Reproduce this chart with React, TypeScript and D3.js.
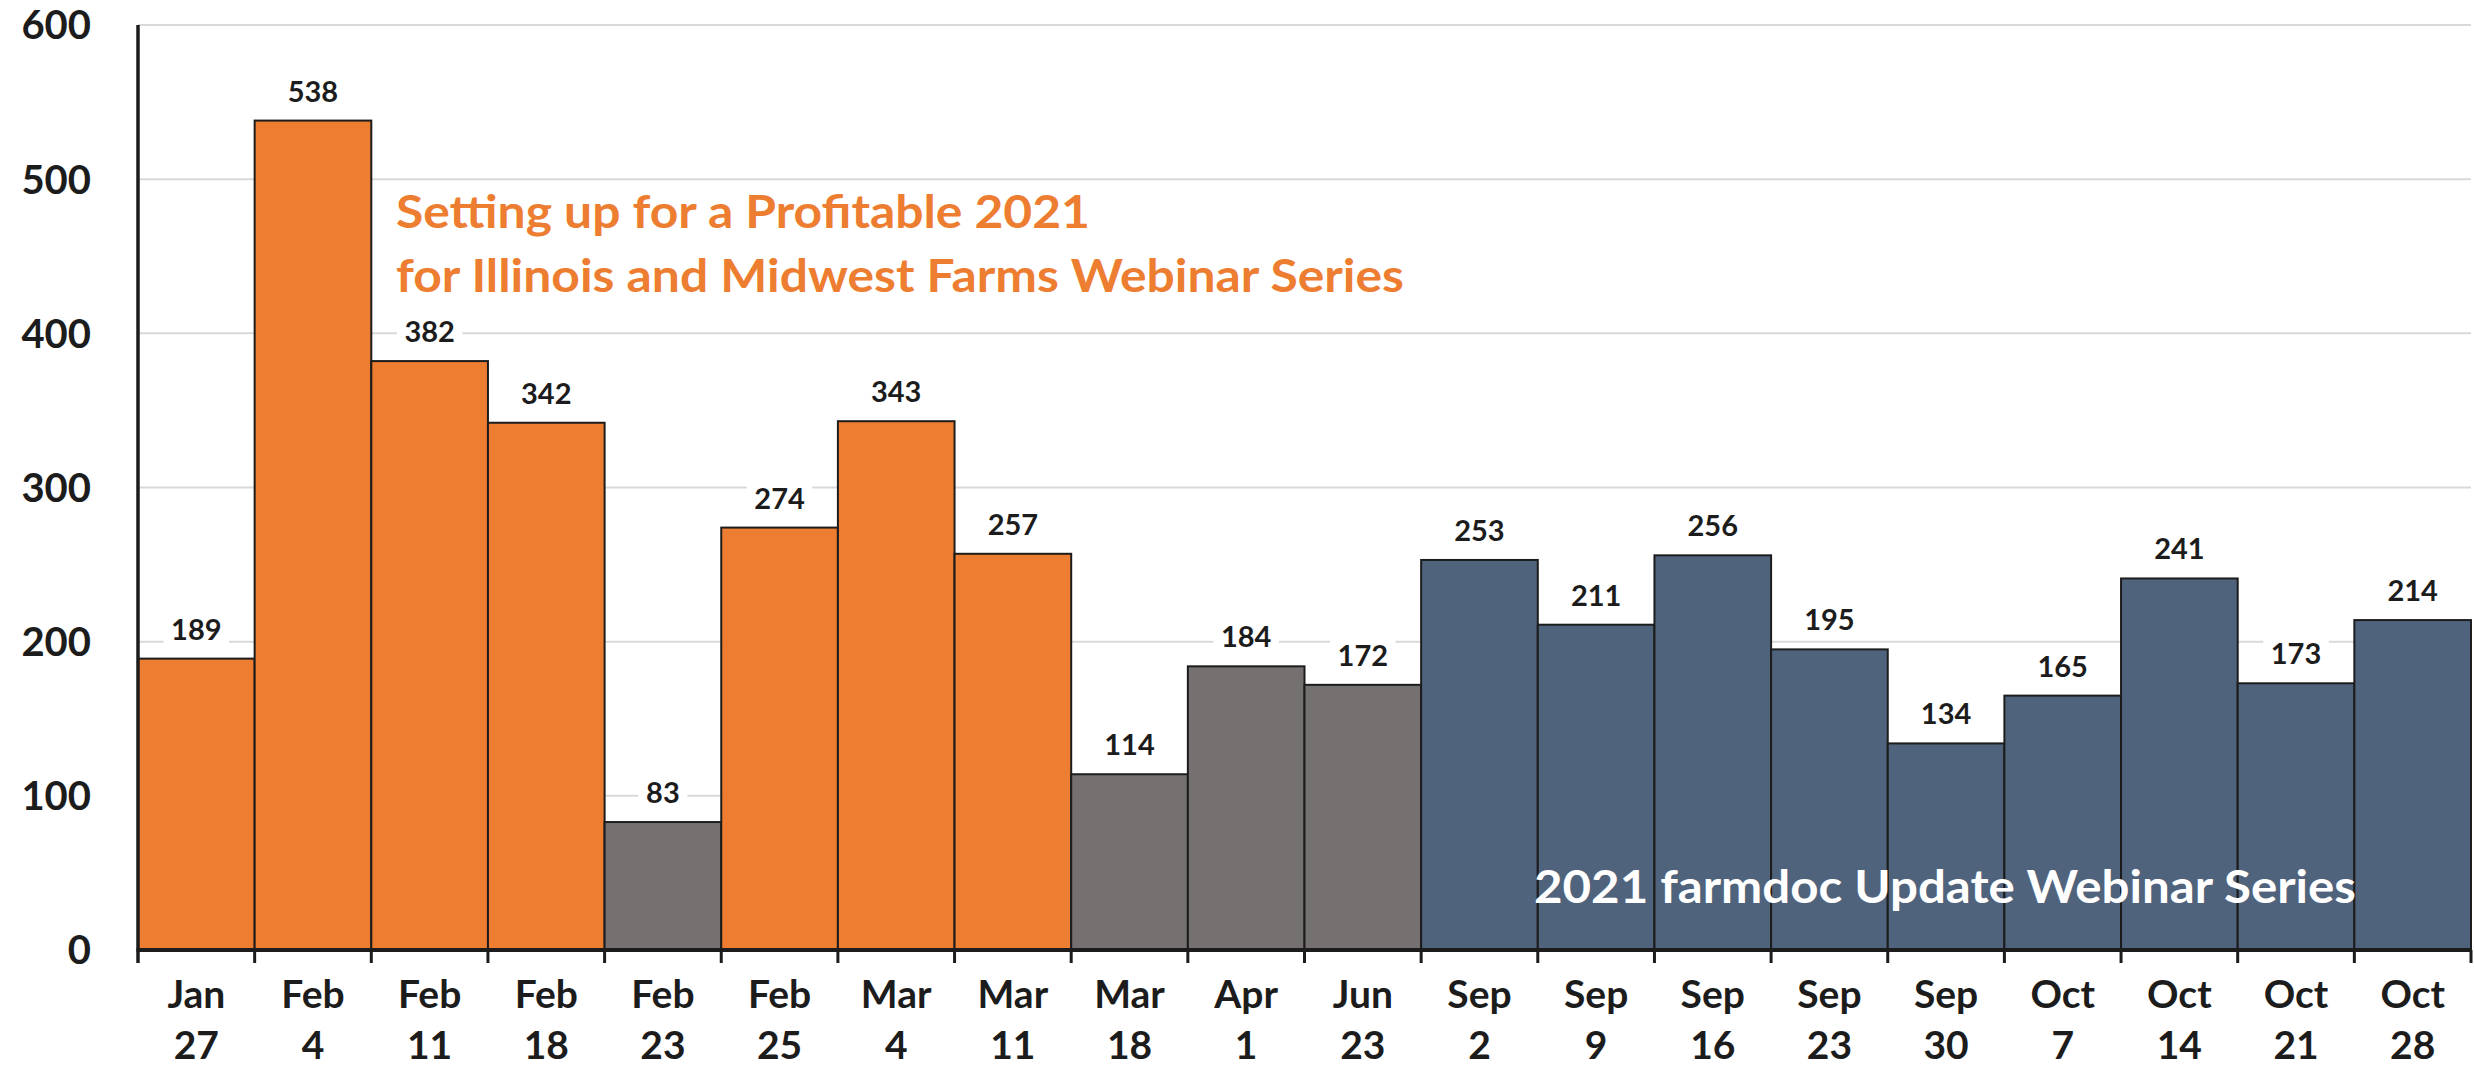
import * as d3 from "d3";

const months = ["Jan", "Feb", "Feb", "Feb", "Feb", "Feb", "Mar", "Mar", "Mar", "Apr", "Jun", "Sep", "Sep", "Sep", "Sep", "Sep", "Oct", "Oct", "Oct", "Oct"];
const days = ["27", "4", "11", "18", "23", "25", "4", "11", "18", "1", "23", "2", "9", "16", "23", "30", "7", "14", "21", "28"];
const attendance = [189, 538, 382, 342, 83, 274, 343, 257, 114, 184, 172, 253, 211, 256, 195, 134, 165, 241, 173, 214];
const series = ["profit", "profit", "profit", "profit", "other", "profit", "profit", "profit", "other", "other", "other", "update", "update", "update", "update", "update", "update", "update", "update", "update"];
const yTicks = [0, 100, 200, 300, 400, 500, 600];

const seriesColor: { [key: string]: string } = {
  profit: "#ED7D31",
  other: "#767171",
  update: "#50637D",
};

const W = 2474;
const H = 1066;
const marginLeft = 138;
const marginRight = 3;
const marginTop = 25;
const marginBottom = 116;
const font = "Lato, 'Open Sans', sans-serif";
const ink = "#1c1c1c";

export default function App() {
  const keys = months.map((m, i) => `${m} ${days[i]}`);
  const x = d3.scaleBand().domain(keys).range([marginLeft, W - marginRight]).padding(0);
  const y = d3.scaleLinear().domain([0, 600]).range([H - marginBottom, marginTop]);
  const y0 = y(0);

  return (
    <svg
      width={W}
      height={H}
      viewBox={`0 0 ${W} ${H}`}
      style={{ position: "absolute", left: 0, top: 0, display: "block", background: "#fff" }}
      fontFamily={font}
    >
      {/* gridlines */}
      <g stroke="#D9D9D9" strokeWidth={2}>
        {yTicks.filter((t) => t > 0).map((t) => (
          <line key={t} x1={marginLeft} x2={W - marginRight} y1={y(t)} y2={y(t)} />
        ))}
      </g>

      {/* y tick labels */}
      <g fill={ink} fontWeight={700} fontSize={40} textAnchor="end">
        {yTicks.map((t) => (
          <text key={t} x={91} y={y(t)} dy="0.36em">
            {t}
          </text>
        ))}
      </g>

      {/* bars */}
      <g stroke={ink} strokeWidth={2}>
        {attendance.map((v, i) => (
          <rect
            key={keys[i]}
            x={x(keys[i])!}
            y={y(v)}
            width={x.bandwidth()}
            height={y0 - y(v)}
            fill={seriesColor[series[i]]}
          />
        ))}
      </g>

      {/* value labels with white boxes */}
      <g>
        {attendance.map((v, i) => {
          const cx = x(keys[i])! + x.bandwidth() / 2;
          const base = y(v) - 19;
          const w = String(v).length * 16.5 + 16;
          return (
            <g key={keys[i]}>
              <rect x={cx - w / 2} y={base - 27} width={w} height={35} fill="#fff" />
              <text x={cx} y={base} textAnchor="middle" fontWeight={700} fontSize={29} fill={ink}>
                {v}
              </text>
            </g>
          );
        })}
      </g>

      {/* axes */}
      <line x1={marginLeft} x2={marginLeft} y1={marginTop} y2={y0 + 13} stroke={ink} strokeWidth={3.5} />
      <line x1={marginLeft - 1.5} x2={W - marginRight + 1} y1={y0} y2={y0} stroke={ink} strokeWidth={4} />
      <g stroke={ink} strokeWidth={3}>
        {keys.map((k) => (
          <line key={k} x1={x(k)! + x.bandwidth()} x2={x(k)! + x.bandwidth()} y1={y0} y2={y0 + 13} />
        ))}
      </g>

      {/* x tick labels */}
      <g fill={ink} fontWeight={700} fontSize={39} textAnchor="middle">
        {keys.map((k, i) => (
          <text key={k} x={x(k)! + x.bandwidth() / 2}>
            <tspan x={x(k)! + x.bandwidth() / 2} y={1008}>{months[i]}</tspan>
            <tspan x={x(k)! + x.bandwidth() / 2} y={1059}>{days[i]}</tspan>
          </text>
        ))}
      </g>

      {/* series annotations */}
      <g fontWeight={700} fontSize={45} fill="#ED7D31">
        <text x={396} y={228} textLength={694} lengthAdjust="spacingAndGlyphs">
          Setting up for a Profitable 2021
        </text>
        <text x={396} y={292} textLength={1008} lengthAdjust="spacingAndGlyphs">
          for Illinois and Midwest Farms Webinar Series
        </text>
      </g>
      <text x={1534} y={903} fontWeight={700} fontSize={45} fill="#fff" textLength={822} lengthAdjust="spacingAndGlyphs">
        2021 farmdoc Update Webinar Series
      </text>
    </svg>
  );
}
